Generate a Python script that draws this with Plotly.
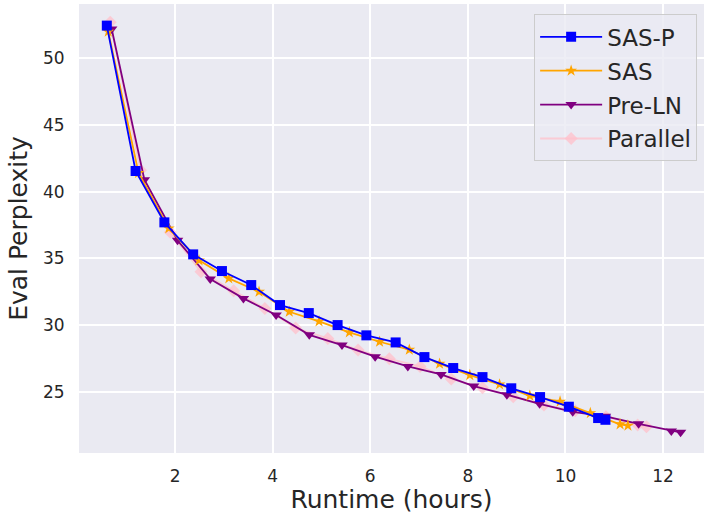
import plotly.graph_objects as go

# ---- data ----
sasp_x = [0.60, 1.19, 1.78, 2.37, 2.96, 3.56, 4.15, 4.74, 5.33, 5.92, 6.52, 7.11, 7.70, 8.30, 8.89, 9.48, 10.07, 10.67, 10.82]
sasp_y = [52.45, 41.55, 37.7, 35.3, 34.05, 33.0, 31.5, 30.9, 30.0, 29.23, 28.7, 27.6, 26.78, 26.1, 25.26, 24.6, 23.88, 23.03, 22.9]

sas_x = [0.63, 1.25, 1.87, 2.49, 3.10, 3.72, 4.34, 4.95, 5.57, 6.19, 6.80, 7.42, 8.04, 8.65, 9.27, 9.89, 10.51, 11.12, 11.28]
sas_y = [52.0, 41.4, 37.25, 34.85, 33.5, 32.5, 31.0, 30.28, 29.45, 28.75, 28.15, 27.1, 26.25, 25.55, 24.7, 24.26, 23.4, 22.56, 22.46]

preln_x = [0.70, 1.37, 2.05, 2.72, 3.40, 4.07, 4.75, 5.42, 6.10, 6.77, 7.45, 8.12, 8.80, 9.47, 10.15, 10.82, 11.50, 12.17, 12.36]
preln_y = [52.2, 40.9, 36.35, 33.45, 32.0, 30.75, 29.27, 28.5, 27.63, 26.9, 26.3, 25.43, 24.78, 24.1, 23.5, 23.16, 22.6, 22.06, 21.96]

par_x = [0.67, 1.29, 1.90, 2.53, 3.20, 3.84, 4.47, 5.13, 5.75, 6.39, 7.02, 7.66, 8.30, 8.93, 9.56, 10.20, 10.83, 11.48, 11.66]
par_y = [52.7, 41.6, 36.95, 34.0, 32.57, 31.25, 29.78, 29.0, 28.13, 27.47, 26.9, 25.96, 25.3, 24.63, 24.0, 23.58, 23.13, 22.5, 22.38]

x_ticks = [2, 4, 6, 8, 10, 12]
y_ticks = [25, 30, 35, 40, 45, 50]

FONT = "DejaVu Sans"
TXT = "#262626"

fig = go.Figure()

series = [
    ("Parallel", par_x, par_y, "rgba(255,192,203,0.75)", "diamond", 10, 4),
    ("Pre-LN", preln_x, preln_y, "#800080", "triangle-down", 10, 3),
    ("SAS", sas_x, sas_y, "#FFA500", "star", 9, 2),
    ("SAS-P", sasp_x, sasp_y, "#0000FF", "square", 10, 1),
]
for name, xs, ys, col, sym, sz, rank in series:
    fig.add_trace(go.Scatter(
        x=xs, y=ys, name=name, mode="lines+markers",
        line=dict(color=col, width=1.8),
        marker=dict(symbol=sym, size=sz, color=col, line=dict(width=0)),
        legendrank=rank, legendgroup=name,
    ))

fig.update_layout(
    width=704, height=514,
    margin=dict(l=79, r=0, t=4, b=61),
    paper_bgcolor="white", plot_bgcolor="#EAEAF2",
    font=dict(family=FONT, color=TXT),
    showlegend=True,
    legend=dict(
        x=0.989, y=0.977, xanchor="right", yanchor="top",
        bgcolor="rgba(234,234,242,0.8)", bordercolor="#CCCCCC", borderwidth=1,
        font=dict(size=23, family=FONT, color=TXT),
        traceorder="grouped", tracegroupgap=1,
        itemwidth=62,
    ),
)
fig.update_xaxes(
    range=[0.03, 12.84], tickvals=x_ticks, ticktext=[str(t) for t in x_ticks],
    showgrid=True, gridcolor="white", gridwidth=1.5, zeroline=False,
    showline=False, ticks="outside", ticklen=8, tickcolor="rgba(0,0,0,0)",
    tickfont=dict(size=17, family=FONT, color=TXT),
    title=dict(text="Runtime (hours)", font=dict(size=25, family=FONT, color=TXT), standoff=5),
)
fig.update_yaxes(
    range=[20.41, 54.07], tickvals=y_ticks, ticktext=[str(t) for t in y_ticks],
    showgrid=True, gridcolor="white", gridwidth=1.5, zeroline=False,
    showline=False, ticks="outside", ticklen=10, tickcolor="rgba(0,0,0,0)",
    tickfont=dict(size=17, family=FONT, color=TXT),
    title=dict(text="Eval Perplexity", font=dict(size=25, family=FONT, color=TXT), standoff=8),
)

fig.write_html("out.html")
